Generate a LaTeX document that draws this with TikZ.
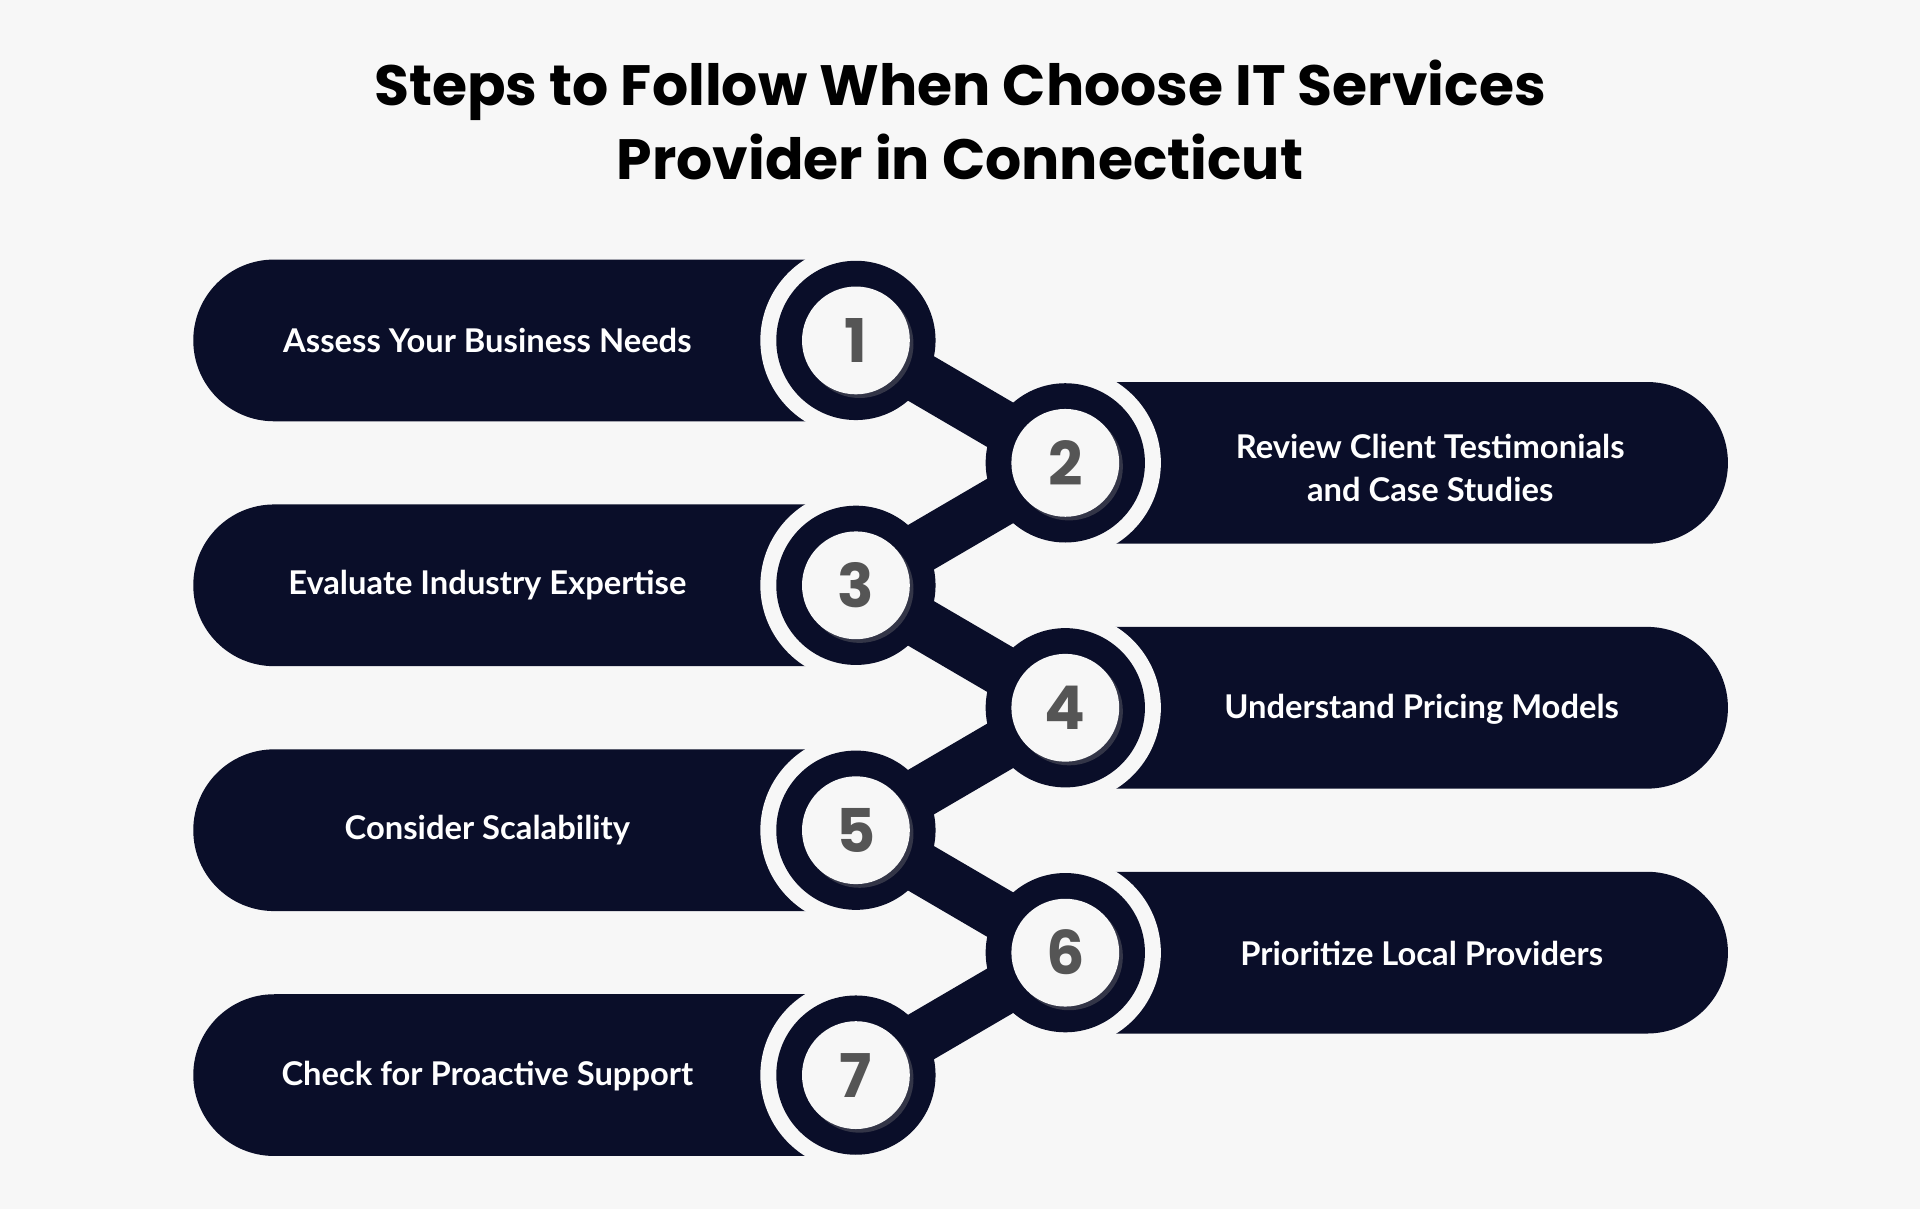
\documentclass[tikz,border=0pt]{standalone}
\usepackage{fontspec}
\setmainfont{Poppins}
\newfontfamily\lab{Lato}
\usetikzlibrary{shapes.misc,shadows}
\definecolor{bgc}{HTML}{F7F7F7}
\definecolor{navy}{HTML}{0A0E29}
\definecolor{numc}{HTML}{555555}
\tikzset{
 lbar/.style={rounded rectangle, rounded rectangle right arc=none, fill=navy, minimum width=5.5cm, minimum height=1.32cm, inner sep=0pt},
 rbar/.style={rounded rectangle, rounded rectangle left arc=none, fill=navy, minimum width=5.5cm, minimum height=1.32cm, inner sep=0pt},
 gapdisk/.style={circle, fill=bgc, minimum size=1.56cm, inner sep=0pt},
 ring/.style={circle, fill=navy, minimum size=1.3cm, inner sep=0pt},
 num/.style={circle, fill=white!94!gray, minimum size=0.88cm, inner sep=0pt, drop shadow={opacity=0.35,shadow xshift=0.03cm,shadow yshift=-0.03cm}, text=numc, font=\fontsize{14}{14}\selectfont\bfseries},
 labtxt/.style={text=white, font=\lab\fontsize{7.6}{10}\selectfont\bfseries, align=center},
 neck/.style={line width=0.42cm, navy}
}
\begin{document}
\begin{tikzpicture}[x=0.01cm,y=-0.01cm]
\fill[bgc] (0,0) rectangle (1568,987);
\useasboundingbox (0,0) rectangle (1568,987);
\node[font=\fontsize{13.2}{17}\selectfont\bfseries, align=center] (title) at (784,98) {Steps to Follow When Choose IT Services\\Provider in Connecticut};
% bars
\node[lbar] (b1) at (433,278) {};
\node[lbar] (b3) at (433,478) {};
\node[lbar] (b5) at (433,678) {};
\node[lbar] (b7) at (433,878) {};
\node[rbar] (b2) at (1136,378) {};
\node[rbar] (b4) at (1136,578) {};
\node[rbar] (b6) at (1136,778) {};
% gap disks
\foreach \i/\x/\y in {1/699/278,2/870/378,3/699/478,4/870/578,5/699/678,6/870/778,7/699/878}
  \node[gapdisk] (g\i) at (\x,\y) {};
\foreach \i/\x/\y in {1/699/278,2/870/378,3/699/478,4/870/578,5/699/678,6/870/778,7/699/878}
  \coordinate (p\i) at (\x,\y);
\foreach \a/\b in {1/2,2/3,3/4,4/5,5/6,6/7}
  \draw[neck] (p\a) -- (p\b);
\foreach \i in {1,...,7}
  \node[ring] (r\i) at (p\i) {};
\foreach \i in {1,...,7}
  \node[num] (n\i) at (p\i) {\i};
% labels
\node[labtxt] (t1) at (398,278) {Assess Your Business Needs};
\node[labtxt] (t3) at (398,478) {Evaluate Industry Expertise};
\node[labtxt] (t5) at (398,678) {Consider Scalability};
\node[labtxt] (t7) at (398,879) {Check for Proactive Support};
\node[labtxt] (t2) at (1168,382) {Review Client Testimonials\\and Case Studies};
\node[labtxt] (t4) at (1161,579) {Understand Pricing Models};
\node[labtxt] (t6) at (1161,779) {Prioritize Local Providers};
\end{tikzpicture}
\end{document}
